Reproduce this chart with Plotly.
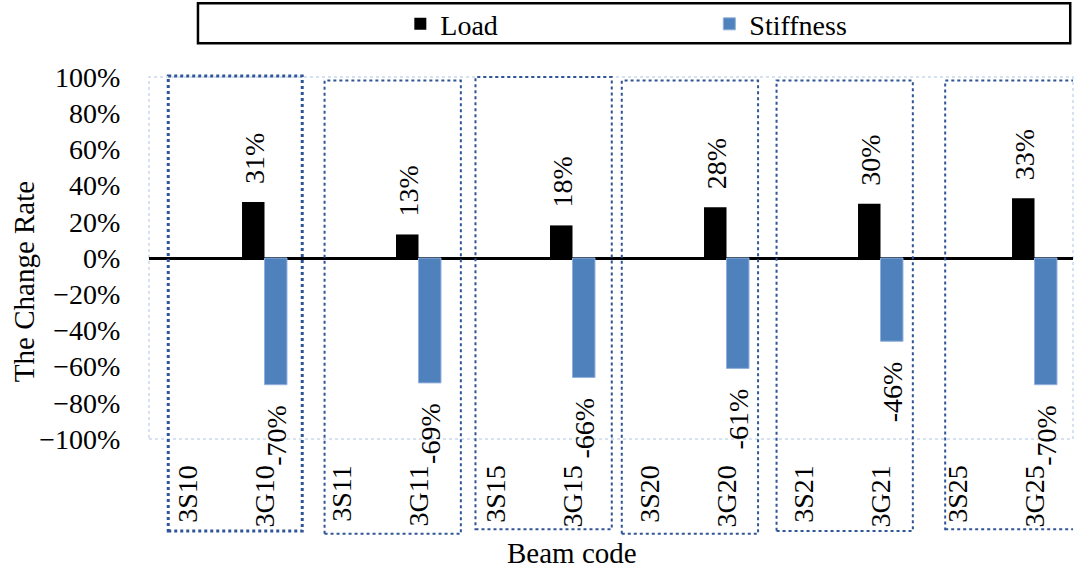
import plotly.graph_objects as go

categories = ["3S10", "3G10", "3S11", "3G11", "3S15", "3G15",
              "3S20", "3G20", "3S21", "3G21", "3S25", "3G25"]
load = [None, 0.31, None, 0.13, None, 0.18, None, 0.28, None, 0.30, None, 0.33]
stiffness = [None, -0.70, None, -0.69, None, -0.66, None, -0.61, None, -0.46, None, -0.70]
y_ticks = [-1.0, -0.8, -0.6, -0.4, -0.2, 0.0, 0.2, 0.4, 0.6, 0.8, 1.0]

FONT = "Liberation Serif"
BLUE = "#4F81BD"

fig = go.Figure()
fig.add_trace(go.Bar(name="Load", x=categories, y=load, marker_color="black",
                     marker_line_width=0))
fig.add_trace(go.Bar(name="Stiffness", x=categories, y=stiffness, marker_color=BLUE,
                     marker_line_color="#8FB0DA", marker_line_width=1))

# data labels
for c, v in zip(categories, load):
    if v is not None:
        fig.add_annotation(x=c, y=v, xref="x", yref="y", text=f"{round(v*100)}%",
                           showarrow=False, textangle=-90, xshift=-10, yshift=16,
                           xanchor="center", yanchor="bottom",
                           font=dict(family=FONT, size=28, color="black"))
for c, v in zip(categories, stiffness):
    if v is not None:
        fig.add_annotation(x=c, y=v, xref="x", yref="y", text=f"{round(v*100)}%",
                           showarrow=False, textangle=-90, xshift=12, yshift=-18,
                           xanchor="center", yanchor="top",
                           font=dict(family=FONT, size=28, color="black"))

# plot-area border (light dotted)
fig.add_shape(type="rect", xref="paper", yref="paper", x0=0, x1=1, y0=0, y1=1,
              line=dict(color="#C9D9EE", width=1.5, dash="dot"), layer="below")

# dotted group boxes around each S/G pair
box_left = [-0.25, -0.22, -0.26, -0.36, -0.35, -0.16]
box_width = [1.74, 1.77, 1.77, 1.77, 1.77, 1.9]
box_top = [1.003, 0.99, 1.0, 0.99, 0.99, 0.99]
box_bottom = [-0.254, -0.262, -0.249, -0.262, -0.254, -0.249]
box_lw = [3, 2, 2, 2, 2, 2]
for k in range(6):
    base = 2 * k
    fig.add_shape(type="rect", xref="x", yref="paper",
                  x0=base + box_left[k], x1=base + box_left[k] + box_width[k],
                  y0=box_bottom[k], y1=box_top[k],
                  line=dict(color="#2F5597", width=box_lw[k], dash="dot"))

# legend box
fig.add_shape(type="rect", xref="paper", yref="paper", x0=0.053, x1=0.997,
              y0=1.093, y1=1.204, line=dict(color="black", width=2.5))

# axis titles
fig.add_annotation(xref="paper", yref="paper", x=-0.135, y=0.434, text="The Change Rate",
                   textangle=-90, showarrow=False, xanchor="center", yanchor="middle",
                   font=dict(family=FONT, size=29, color="black"))
fig.add_annotation(xref="paper", yref="paper", x=0.458, y=-0.315, text="Beam code",
                   showarrow=False, xanchor="center", yanchor="middle",
                   font=dict(family=FONT, size=29, color="black"))

fig.update_layout(
    width=1074, height=569,
    margin=dict(l=149, r=1, t=77, b=130, autoexpand=False),
    plot_bgcolor="white", paper_bgcolor="white",
    barmode="group", bargap=0.416, bargroupgap=0,
    font=dict(family=FONT, size=28, color="black"),
    showlegend=True,
    legend=dict(orientation="h", x=0.272, xanchor="left", y=1.146, yanchor="middle",
                font=dict(family=FONT, size=28, color="black"),
                entrywidth=264, entrywidthmode="pixels",
                bgcolor="rgba(0,0,0,0)", borderwidth=0),
    xaxis=dict(type="category", range=[-0.5, len(categories) - 0.5], tickangle=-90,
               showgrid=False, showline=False,
               ticks="outside", ticklen=14, tickcolor="rgba(0,0,0,0)",
               tickfont=dict(family=FONT, size=28, color="black")),
    yaxis=dict(range=[-1, 1], tickvals=y_ticks, tickformat=".0%", showgrid=False,
               zeroline=True, zerolinecolor="black", zerolinewidth=2.5,
               showline=False, ticks="outside", ticklen=22, tickcolor="rgba(0,0,0,0)",
               tickfont=dict(family=FONT, size=28, color="black")),
)

fig.write_html("out.html")
